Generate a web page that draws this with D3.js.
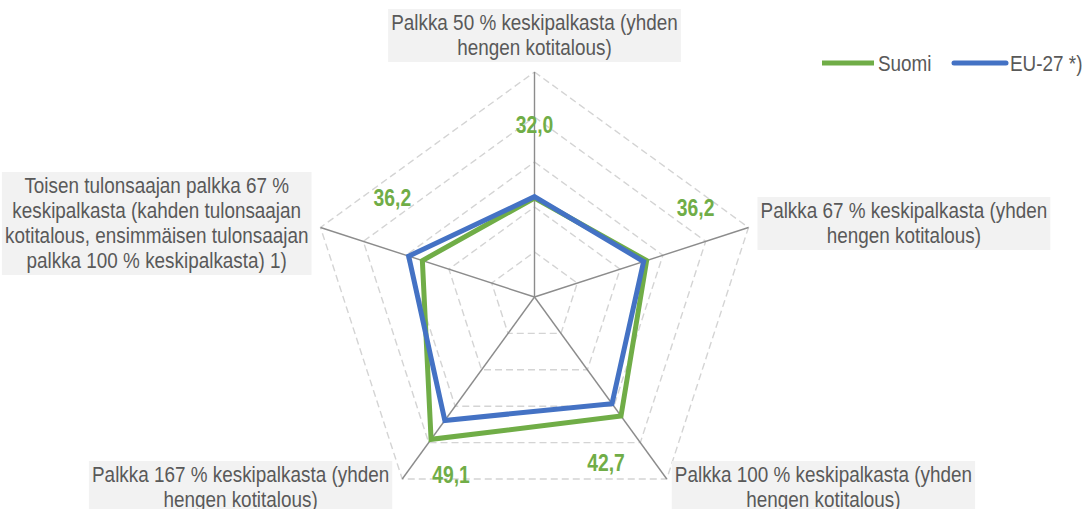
<!DOCTYPE html>
<html>
<head>
<meta charset="utf-8">
<script src="https://cdn.jsdelivr.net/npm/d3@7"></script>
<style>
  body { margin: 0; background: #fff; }
  svg { display: block; }
  text { font-family: "Liberation Sans", Arial, sans-serif; }
</style>
</head>
<body>
<svg id="chart" width="1084" height="509"></svg>
<script>
var width = 1084;
var height = 509;

// data
var categories = [
    ["Palkka 50 % keskipalkasta (yhden", "hengen kotitalous)"],
    ["Palkka 67 % keskipalkasta (yhden", "hengen kotitalous)"],
    ["Palkka 100 % keskipalkasta (yhden", "hengen kotitalous)"],
    ["Palkka 167 % keskipalkasta (yhden", "hengen kotitalous)"],
    ["Toisen tulonsaajan palkka 67 %", "keskipalkasta (kahden tulonsaajan", "kotitalous, ensimmäisen tulonsaajan", "palkka 100 % keskipalkasta) 1)"]
];
var suomi = [32.0, 36.2, 42.7, 49.1, 36.2];
var eu27 = [32.3, 35.5, 39.3, 43.9, 39.4];
var seriesNames = ["Suomi", "EU-27 *)"];
var ringValues = [20, 30, 40, 50, 60];

// layout
var cx = 534.5, cy = 297, R = 225;
var colors = ["#70ad47", "#4472c4"];
var textColor = "#595959";
var narrow = 0.84; // Arial Narrow look-alike
// where each category label box sits relative to the axis end: [dx, dy, h-align, v-align]
var labelPlace = [
    [0, -10, "middle", "bottom"],
    [9, -4, "start", "middle"],
    [5, -18, "start", "top"],
    [-10, -18, "end", "top"],
    [-9, -4, "end", "middle"]
];
// data label offsets from the Suomi vertex
var valueOffset = [[0, -73], [49, -53], [-15, 47], [20, 36], [-30, -63]];

var r = d3.scaleLinear().domain([10, 60]).range([0, R]);
var angle = d3.scaleLinear().domain([0, categories.length]).range([0, 2 * Math.PI]);

function pt(i, v) {
    let a = angle(i);
    return [cx + r(v) * Math.sin(a), cy - r(v) * Math.cos(a)];
}

var svg = d3.select("svg#chart");

// rings
svg.append("g")
    .selectAll("path")
    .data(ringValues)
    .enter().append("path")
        .attr("d", v => d3.line()(categories.map((c, i) => pt(i, v))) + "Z")
        .attr("fill", "none")
        .attr("stroke", "#d4d4d4")
        .attr("stroke-width", 1.4)
        .attr("stroke-dasharray", "7,4");

// spokes
svg.append("g")
    .selectAll("line")
    .data(categories)
    .enter().append("line")
        .attr("x1", cx).attr("y1", cy)
        .attr("x2", (d, i) => pt(i, 60)[0])
        .attr("y2", (d, i) => pt(i, 60)[1])
        .attr("stroke", "#8c8c8c")
        .attr("stroke-width", 1.4);

// series
var line = d3.line().curve(d3.curveLinearClosed);
[suomi, eu27].forEach(function (s, k) {
    svg.append("path")
        .attr("d", line(s.map((v, i) => pt(i, v))))
        .attr("fill", "none")
        .attr("stroke", colors[k])
        .attr("stroke-width", 5)
        .attr("stroke-linejoin", "miter");
});

// data labels (Suomi)
svg.append("g")
    .selectAll("text")
    .data(suomi)
    .enter().append("text")
        .attr("transform", (v, i) => {
            let p = pt(i, v);
            return `translate(${p[0] + valueOffset[i][0]},${p[1] + valueOffset[i][1] + 8}) scale(${narrow},1)`;
        })
        .attr("text-anchor", "middle")
        .attr("font-size", 23)
        .attr("font-weight", "bold")
        .attr("fill", colors[0])
        .text(v => d3.format(".1f")(v).replace(".", ","));

// category labels with grey boxes
var lineH = 25;
categories.forEach(function (lines, i) {
    let end = pt(i, 60);
    let p = labelPlace[i];
    let ax = end[0] + p[0], ay = end[1] + p[1];
    let g = svg.append("g");
    let rect = g.append("rect").attr("fill", "#f2f2f2");
    let t = g.append("text")
        .attr("font-size", 22.5)
        .attr("fill", textColor)
        .attr("text-anchor", "middle");
    lines.forEach(function (l, j) {
        t.append("tspan").attr("x", 0).attr("y", j * lineH).text(l);
    });
    let bb = t.node().getBBox();
    let w = bb.width * narrow + 6, h = lines.length * lineH + 3;
    let left = p[2] === "middle" ? ax - w / 2 : (p[2] === "start" ? ax : ax - w);
    let top = p[3] === "bottom" ? ay - h : (p[3] === "top" ? ay : ay - h / 2);
    rect.attr("x", left).attr("y", top).attr("width", w).attr("height", h);
    t.attr("transform", `translate(${left + w / 2},${top + 21}) scale(${narrow},1)`);
});

// legend
var legend = svg.append("g");
var legendX = [822, 954];
seriesNames.forEach(function (n, k) {
    legend.append("line")
        .attr("x1", legendX[k]).attr("x2", legendX[k] + 52)
        .attr("y1", 63).attr("y2", 63)
        .attr("stroke", colors[k])
        .attr("stroke-width", 5)
        .attr("stroke-linecap", k === 1 ? "round" : "butt");
    legend.append("text")
        .attr("transform", `translate(${legendX[k] + 56},71) scale(${narrow},1)`)
        .attr("font-size", 22.5)
        .attr("fill", textColor)
        .text(n);
});
</script>
</body>
</html>
